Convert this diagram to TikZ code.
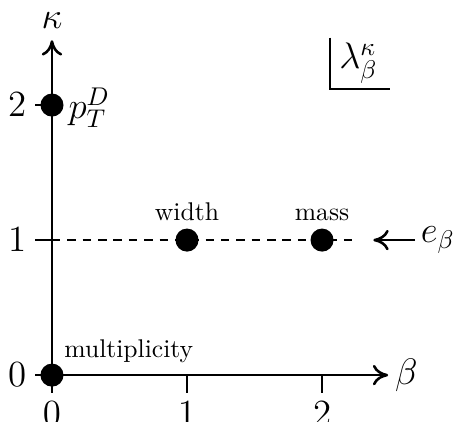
\documentclass[tikz,border=0pt]{standalone}
\usetikzlibrary{arrows.meta}
\begin{document}
\begin{tikzpicture}[x=1.853cm,y=1.853cm,
  axis/.style={line width=1pt,-{To[length=6pt,width=8pt]}},
  tick/.style={line width=1pt},
  pt/.style={circle,fill=black,inner sep=0pt,minimum size=9pt},
  lbl/.style={font=\Large},
  num/.style={font=\Large}]
\useasboundingbox (-0.385,-0.341) rectangle (2.97,2.778);
% axes
\coordinate (O) at (0,0);
\coordinate (xend) at (2.49,0);
\coordinate (yend) at (0,2.48);
\draw[axis] (O) -- (xend);
\draw[axis] (O) -- (yend);
\node[lbl,anchor=west,inner sep=2.5pt] (blab) at (xend) {$\beta$};
\node[lbl,anchor=south,inner sep=2pt] (klab) at ([yshift=2.5pt]yend) {$\kappa$};
% x ticks
\foreach \i in {0,1,2}{
  \coordinate (xt\i) at (\i,0);
  \coordinate (xb\i) at (\i,-0.13);
  \draw[tick] (xt\i) -- (xb\i);
  \node[num,anchor=north] (xl\i) at (xb\i) {$\i$};
}
% y ticks
\foreach \i in {0,1,2}{
  \coordinate (yt\i) at (0,\i);
  \coordinate (yb\i) at (-0.125,\i);
  \draw[tick] (yt\i) -- (yb\i);
  \node[num,anchor=east] (yl\i) at (yb\i) {$\i$};
}
% dashed line
\coordinate (dend) at (2.27,1);
\draw[line width=1pt,dash pattern=on 3.3pt off 2.7pt] (yt1) -- (dend);
% arrow e_beta
\coordinate (etail) at (2.69,1);
\coordinate (ehead) at (2.38,1);
\draw[line width=1pt,-{To[length=6pt,width=8pt]}] (etail) -- (ehead);
\node[lbl,anchor=west,inner sep=2pt] (elab) at (etail) {$e_\beta$};
% points
\node[pt] (p0) at (0,0) {};
\node[pt] (p2) at (0,2) {};
\node[pt] (pw) at (1,1) {};
\node[pt] (pm) at (2,1) {};
\node[anchor=south west,inner sep=2pt] (mult) at (0.05,0.05) {multiplicity};
\node[above=4pt] (wlab) at (pw) {width};
\node[above=4pt] (mlab) at (pm) {mass};
\node[num,anchor=west,inner sep=1pt] (ptlab) at (0.1,1.98) {$p_T^D$};
% lambda box
\coordinate (lt) at (2.06,2.50);
\coordinate (lc) at (2.06,2.12);
\coordinate (lr) at (2.50,2.12);
\draw[line width=1pt] (lt) -- (lc) -- (lr);
\node[num] (lam) at (2.27,2.31) {$\lambda^\kappa_\beta$};
\end{tikzpicture}
\end{document}
